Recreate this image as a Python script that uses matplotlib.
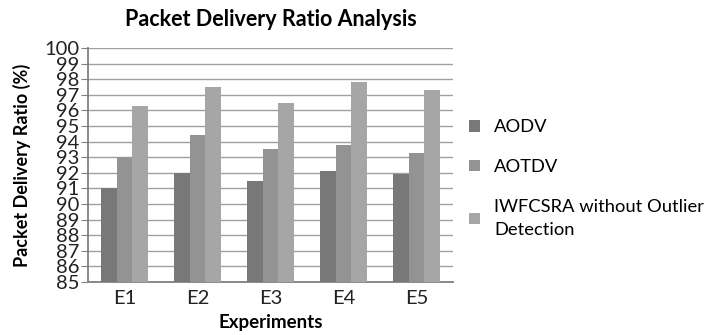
import numpy as np
import matplotlib.pyplot as plt

plt.rcParams['font.family'] = ['Lato', 'DejaVu Sans']

experiments = ["E1", "E2", "E3", "E4", "E5"]
aodv = [91.0, 92.0, 91.5, 92.1, 91.9]
aotdv = [93.0, 94.45, 93.5, 93.8, 93.3]
iwfcsra = [96.3, 97.5, 96.5, 97.8, 97.3]
series_names = ["AODV", "AOTDV", "IWFCSRA without Outlier\nDetection"]
colors = ["#787878", "#939393", "#a6a6a6"]

fig = plt.figure(figsize=(7.13, 3.35), dpi=100)
ax = fig.add_axes([0.1234, 0.1582, 0.5119, 0.6985])

x = np.arange(len(experiments))
w = 0.213
base = 85
for i, (vals, name, c) in enumerate(zip([aodv, aotdv, iwfcsra], series_names, colors)):
    vals = np.array(vals)
    ax.bar(x + (i - 1) * w, vals - base, w, bottom=base, color=c, label=name, zorder=3)

ax.set_xlim(-0.5, len(experiments) - 0.5)
ax.set_ylim(85, 100)
ax.set_yticks(np.arange(85, 101, 1))
ax.set_xticks(x)
ax.set_xticklabels(experiments)
ax.grid(axis="y", color="#a0a0a0", lw=1.0, zorder=0)

for s in ["top", "right"]:
    ax.spines[s].set_visible(False)
ax.spines["left"].set_color("#808080")
ax.spines["bottom"].set_color("#808080")
ax.spines["left"].set_linewidth(1.3)
ax.spines["bottom"].set_linewidth(1.3)
ax.tick_params(axis="y", length=5, colors="#808080", labelsize=14.5, pad=1)
for lbl in ax.get_yticklabels():
    lbl.set_color("#222222")
ax.tick_params(axis="x", length=0, labelsize=14.5, pad=6, labelcolor="#222222")

ax.set_title("Packet Delivery Ratio Analysis", fontsize=15.5, fontweight="bold", pad=16)
ax.set_ylabel("Packet Delivery Ratio (%)", fontsize=13, fontweight="bold", labelpad=10)
ax.set_xlabel("Experiments", fontsize=13.5, fontweight="bold", labelpad=5)

leg = ax.legend(loc="upper left", bbox_to_anchor=(1.0, 0.765), frameon=False, fontsize=13.2,
                handlelength=0.55, handleheight=0.55, handletextpad=0.8, labelspacing=1.3)
for t in leg.get_texts():
    t.set_linespacing(1.55)

fig.savefig("out.png")
